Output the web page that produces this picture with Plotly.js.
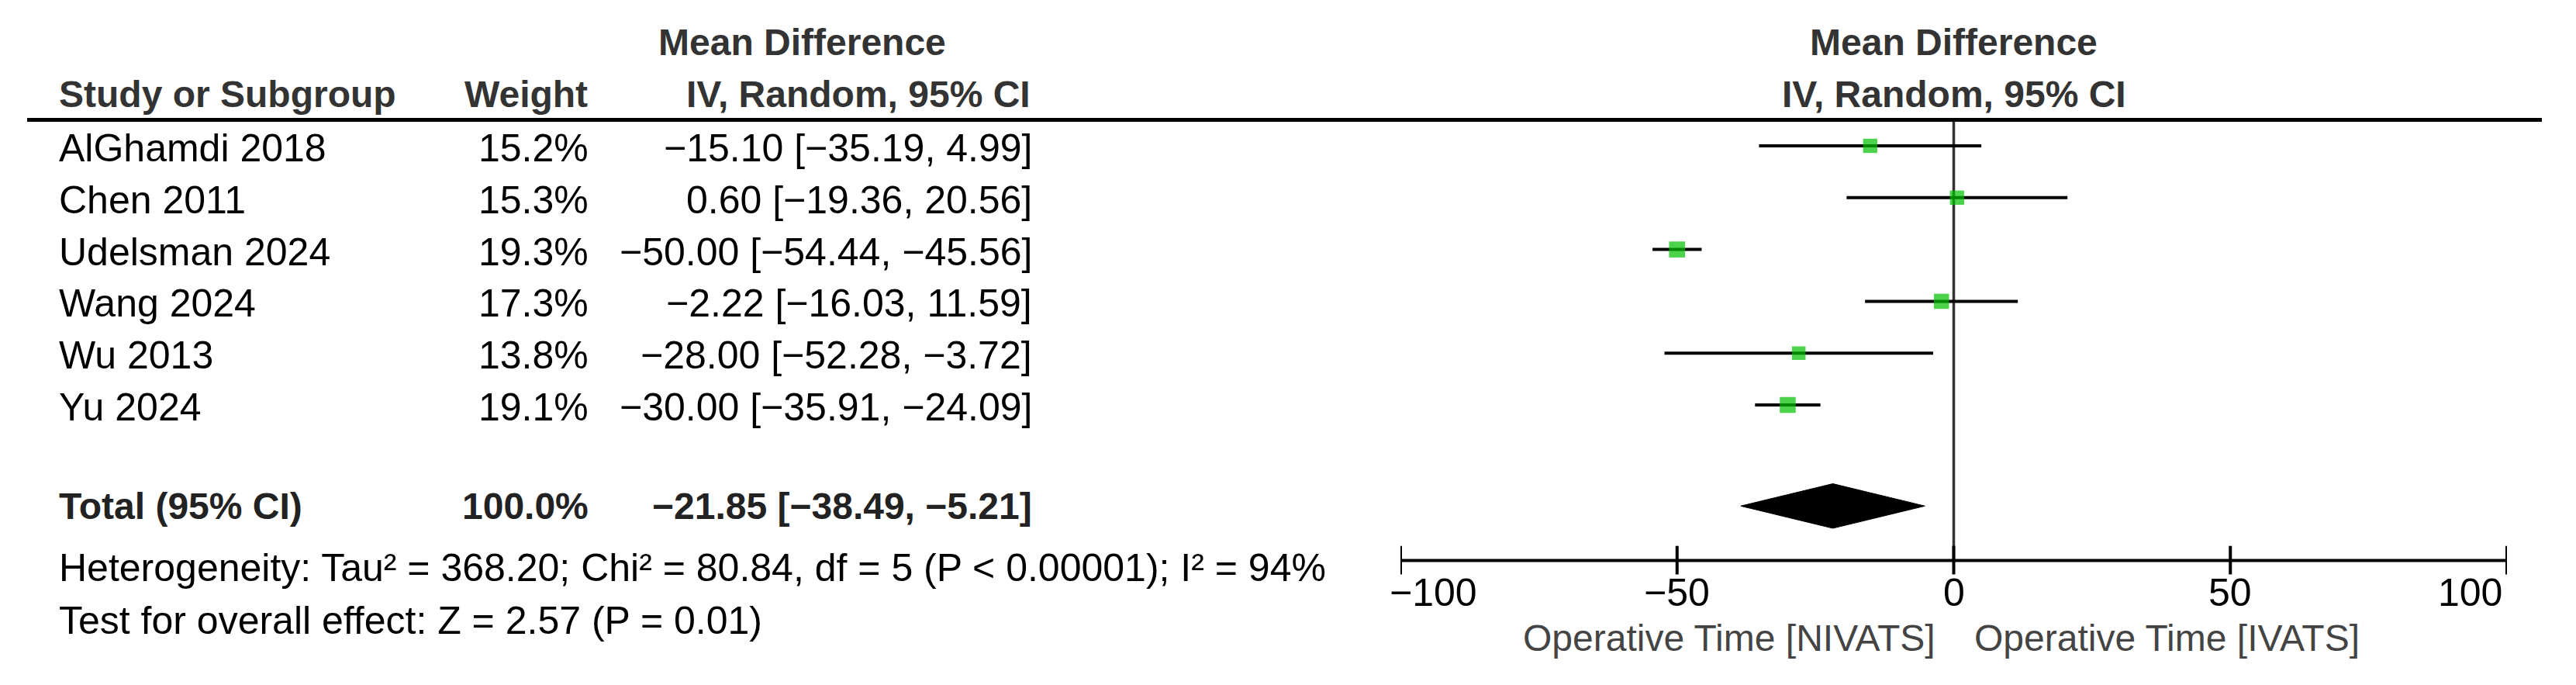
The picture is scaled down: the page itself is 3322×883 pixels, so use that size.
<!DOCTYPE html>
<html>
<head>
<meta charset="utf-8">
<script src="https://cdn.plot.ly/plotly-3.0.1.min.js"></script>
<style>
  html, body { margin: 0; padding: 0; background: #fff; }
  #forest { width: 3322px; height: 883px; }
</style>
</head>
<body>
<div id="forest"></div>
<script>
// ---- data ----
const studies = ['AlGhamdi 2018', 'Chen 2011', 'Udelsman 2024', 'Wang 2024', 'Wu 2013', 'Yu 2024'];
const weights = [15.2, 15.3, 19.3, 17.3, 13.8, 19.1];
const meanDiff = [-15.10, 0.60, -50.00, -2.22, -28.00, -30.00];
const ciLower = [-35.19, -19.36, -54.44, -16.03, -52.28, -35.91];
const ciUpper = [4.99, 20.56, -45.56, 11.59, -3.72, -24.09];

const totalWeight = 100.0;
const totalMD = -21.85;
const totalLower = -38.49;
const totalUpper = -5.21;

const tickVals = [-100, -50, 0, 50, 100];
const tickText = ['\u2212100', '\u221250', '0', '50', '100'];

const heterogeneity = 'Heterogeneity: Tau\u00b2 = 368.20; Chi\u00b2 = 80.84, df = 5 (P &lt; 0.00001); I\u00b2 = 94%';
const overallTest = 'Test for overall effect: Z = 2.57 (P = 0.01)';
const favoursLeft = 'Operative Time [NIVATS]';
const favoursRight = 'Operative Time [IVATS]';

// ---- layout helpers ----
const W = 3322;
const FONT = 'Arial, "Liberation Sans", sans-serif';
const FS_BOLD = 48;
const FS = 50;
const rows = studies.map((s, i) => i);
const totalRow = 6.95;
const axisRow = 8;
const diamondHalf = 0.43;

function fmt(v) {
  return v.toFixed(2).replace('-', '\u2212');
}
function ciLabel(m, lo, hi) {
  return fmt(m) + ' [' + fmt(lo) + ', ' + fmt(hi) + ']';
}
function px(x) { return x / W; }

// CI whiskers, one trace broken by nulls
let ciX = [], ciY = [];
rows.forEach((r, i) => {
  ciX.push(ciLower[i], ciUpper[i], null);
  ciY.push(r, r, null);
});

const whiskers = {
  x: ciX, y: ciY,
  type: 'scatter', mode: 'lines',
  line: { color: '#000', width: 4 },
  hoverinfo: 'skip'
};

const squares = {
  x: meanDiff, y: rows,
  type: 'scatter', mode: 'markers',
  marker: {
    symbol: 'square',
    color: '#00c000',
    size: weights.map(w => 4.7 * Math.sqrt(w)),
    line: { width: 0 }
  },
  hoverinfo: 'skip'
};

const diamond = {
  x: [totalLower, totalMD, totalUpper, totalMD, totalLower],
  y: [totalRow, totalRow - diamondHalf, totalRow, totalRow + diamondHalf, totalRow],
  type: 'scatter', mode: 'lines',
  fill: 'toself', fillcolor: '#000',
  line: { color: '#000', width: 1 },
  hoverinfo: 'skip'
};

// ---- text table on the left ----
let notes = [];
function note(text, x, y, anchor, opts) {
  opts = opts || {};
  notes.push({
    text: text,
    x: x, y: y,
    xref: opts.xref || 'paper', yref: 'y',
    xanchor: anchor, yanchor: 'middle',
    xshift: opts.xshift || (anchor === 'left' && !opts.xref ? -4 : 0),
    yshift: opts.yshift || 0,
    showarrow: false,
    font: {
      family: FONT,
      size: opts.size || (opts.bold ? FS_BOLD : FS),
      color: opts.color || '#000',
      weight: opts.bold ? 'bold' : 'normal'
    }
  });
}

// headers
note('Mean Difference', px(1034), -2, 'center', { bold: true, color: '#333' });
note('Study or Subgroup', px(78), -1, 'left', { bold: true, color: '#333' });
note('Weight', px(760), -1, 'right', { bold: true, color: '#333' });
note('IV, Random, 95% CI', px(1331), -1, 'right', { bold: true, color: '#333' });
note('Mean Difference', 0, -2, 'center', { xref: 'x', bold: true, color: '#333' });
note('IV, Random, 95% CI', 0, -1, 'center', { xref: 'x', bold: true, color: '#333' });

// study rows
rows.forEach((r, i) => {
  note(studies[i], px(78), r, 'left', { yshift: -3 });
  note(weights[i].toFixed(1) + '%', px(761), r, 'right', { yshift: -3 });
  note(ciLabel(meanDiff[i], ciLower[i], ciUpper[i]), px(1333), r, 'right', { yshift: -3 });
});

// total row
note('Total (95% CI)', px(78), totalRow, 'left', { bold: true, color: '#222' });
note(totalWeight.toFixed(1) + '%', px(761), totalRow, 'right', { bold: true, color: '#222' });
note(ciLabel(totalMD, totalLower, totalUpper), px(1333), totalRow, 'right', { bold: true, color: '#222' });

note(heterogeneity, px(78), 8.14, 'left');
note(overallTest, px(78), 9.12, 'left', { yshift: -3 });

// axis tick labels
tickVals.forEach((v, i) => {
  let anchor = 'center', shift = 0;
  if (i === 0) { anchor = 'left'; shift = -16; }
  if (i === tickVals.length - 1) { anchor = 'right'; shift = -4; }
  note(tickText[i], v, 8.62, anchor, { xref: 'x', xshift: shift });
});

// favours labels
note(favoursLeft, 0, 9.5, 'right', { xref: 'x', xshift: -22, color: '#444', size: 48 });
note(favoursRight, 0, 9.5, 'left', { xref: 'x', xshift: 24, color: '#444', size: 48 });

// ---- lines: header rule, zero line, x axis with crossing ticks ----
let shapes = [
  { type: 'line', xref: 'paper', yref: 'y', x0: px(35), x1: px(3278), y0: -0.5, y1: -0.5,
    line: { color: '#000', width: 5 } },
  { type: 'line', xref: 'x', yref: 'y', x0: 0, x1: 0, y0: -0.5, y1: axisRow,
    line: { color: '#333', width: 3.5 }, layer: 'below' },
  { type: 'line', xref: 'x', yref: 'y', x0: tickVals[0], x1: tickVals[tickVals.length - 1], y0: axisRow, y1: axisRow,
    line: { color: '#000', width: 4 } }
];
tickVals.forEach(v => {
  shapes.push({ type: 'line', xref: 'x', yref: 'y', x0: v, x1: v, y0: axisRow - 0.28, y1: axisRow + 0.27,
    line: { color: '#000', width: 4 } });
});

const layout = {
  width: W, height: 883,
  margin: { l: 0, r: 0, t: 0, b: 0 },
  paper_bgcolor: '#fff',
  plot_bgcolor: 'rgba(0,0,0,0)',
  showlegend: false,
  xaxis: {
    domain: [px(1806), px(3233)],
    range: [-100, 100],
    visible: false
  },
  yaxis: {
    domain: [0, 1],
    range: [(883 - 188) / 66.8, -188 / 66.8],
    visible: false
  },
  shapes: shapes,
  annotations: notes
};

Plotly.newPlot('forest', [whiskers, diamond, squares], layout, { displayModeBar: false, staticPlot: true });
</script>
</body>
</html>
